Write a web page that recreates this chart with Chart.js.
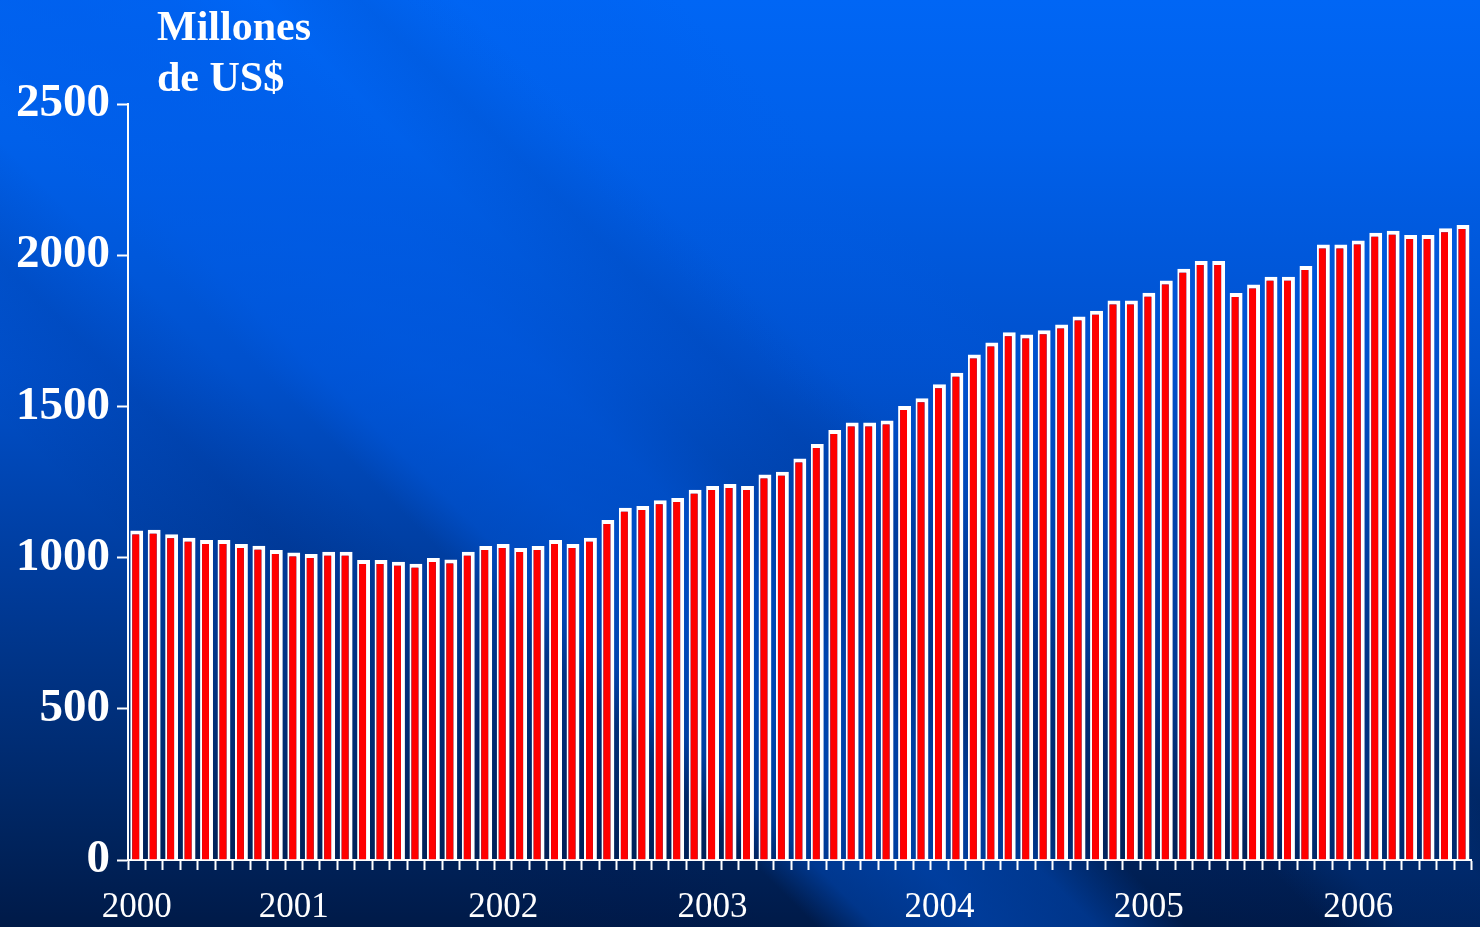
<!DOCTYPE html>
<html lang="es">
<head>
<meta charset="utf-8">
<title>Millones de US$</title>
<script src="https://cdn.jsdelivr.net/npm/chart.js@4.4.1/dist/chart.umd.min.js"></script>
<style>
	html, body { margin: 0; padding: 0; background: #001a4a; }
	#wrap { width: 1480px; height: 927px; }
</style>
</head>
<body>
<div id="wrap"><canvas id="grafico" width="1480" height="927"></canvas></div>
<script>
// meses (abr 2000 - ago 2006)
const meses = [
	'abr 2000', 'may 2000', 'jun 2000', 'jul 2000', 'ago 2000', 'sep 2000', 'oct 2000', 'nov 2000', 'dic 2000',
	'ene 2001', 'feb 2001', 'mar 2001', 'abr 2001', 'may 2001', 'jun 2001', 'jul 2001', 'ago 2001', 'sep 2001', 'oct 2001', 'nov 2001', 'dic 2001',
	'ene 2002', 'feb 2002', 'mar 2002', 'abr 2002', 'may 2002', 'jun 2002', 'jul 2002', 'ago 2002', 'sep 2002', 'oct 2002', 'nov 2002', 'dic 2002',
	'ene 2003', 'feb 2003', 'mar 2003', 'abr 2003', 'may 2003', 'jun 2003', 'jul 2003', 'ago 2003', 'sep 2003', 'oct 2003', 'nov 2003', 'dic 2003',
	'ene 2004', 'feb 2004', 'mar 2004', 'abr 2004', 'may 2004', 'jun 2004', 'jul 2004', 'ago 2004', 'sep 2004', 'oct 2004', 'nov 2004', 'dic 2004',
	'ene 2005', 'feb 2005', 'mar 2005', 'abr 2005', 'may 2005', 'jun 2005', 'jul 2005', 'ago 2005', 'sep 2005', 'oct 2005', 'nov 2005', 'dic 2005',
	'ene 2006', 'feb 2006', 'mar 2006', 'abr 2006', 'may 2006', 'jun 2006', 'jul 2006', 'ago 2006'
];

// millones de US$
const valores = [
	1090, 1092, 1077, 1066, 1058, 1058, 1045, 1039, 1025, 1017,
	1012, 1019, 1019, 992, 992, 986, 980, 999, 994, 1019,
	1038, 1045, 1032, 1038, 1058, 1045, 1066, 1124, 1165, 1171,
	1190, 1197, 1224, 1237, 1243, 1237, 1275, 1284, 1328, 1376,
	1422, 1447, 1447, 1453, 1501, 1527, 1573, 1611, 1672, 1711,
	1745, 1738, 1752, 1771, 1797, 1816, 1850, 1850, 1876, 1916,
	1955, 1981, 1981, 1875, 1903, 1929, 1929, 1964, 2035, 2035,
	2049, 2074, 2081, 2067, 2067, 2089, 2100
];

// etiquetas de años y la barra bajo la que aparecen
const anios = ['2000', '2001', '2002', '2003', '2004', '2005', '2006'];
const posAnios = [0, 9, 21, 33, 46, 58, 70];

const ejeY = { min: 0, max: 2500, paso: 500 };
const unidad = ['Millones', 'de US$'];

const SERIF = "'Liberation Serif', 'Times New Roman', serif";

// degradado a lo largo de u = x - y (franjas diagonales)
function franja(ctx, w, h, rgb, paradas) {
	let g = ctx.createLinearGradient(-h / 2, h / 2, w / 2, -w / 2);
	paradas.forEach(p => {
		let t = (p[0] + h) / (w + h);
		g.addColorStop(Math.min(1, Math.max(0, t)), 'rgba(' + rgb + ',' + p[1] + ')');
	});
	ctx.fillStyle = g;
	ctx.fillRect(0, 0, w, h);
}

const fondo = {
	id: 'fondo',
	beforeDraw(chart) {
		let ctx = chart.ctx, w = chart.width, h = chart.height;
		ctx.save();
		let g = ctx.createLinearGradient(0, 0, 0, h);
		g.addColorStop(0, '#0066f5');
		g.addColorStop(0.15, '#0060ea');
		g.addColorStop(0.4, '#0050cc');
		g.addColorStop(0.62, '#003c9c');
		g.addColorStop(0.9, '#00245e');
		g.addColorStop(1, '#001a48');
		ctx.fillStyle = g;
		ctx.fillRect(0, 0, w, h);
		franja(ctx, w, h, '0,92,232', [[-200, 0], [-110, 0], [-50, 0.4], [60, 0.5], [170, 0.4], [260, 0], [1500, 0]]);
		franja(ctx, w, h, '0,20,80', [[-900, 0], [-420, 0], [-260, 0.12], [-140, 0], [260, 0], [360, 0.08], [460, 0], [1500, 0]]);
		franja(ctx, w, h, '0,92,232', [[400, 0], [480, 0.15], [600, 0.15], [680, 0], [1500, 0]]);
		ctx.restore();
	}
};

const textoUnidad = {
	id: 'textoUnidad',
	afterDraw(chart) {
		let ctx = chart.ctx;
		ctx.save();
		ctx.fillStyle = '#ffffff';
		ctx.font = 'bold 42px ' + SERIF;
		ctx.textBaseline = 'alphabetic';
		ctx.textAlign = 'left';
		ctx.fillText(unidad[0], 157, 40);
		ctx.fillText(unidad[1], 157, 91);
		ctx.restore();
	}
};

let $ = document.querySelector.bind(document);
let grafico = new Chart($('#grafico').getContext('2d'), {
	type: 'bar',
	data: {
		labels: meses,
		datasets: [{
			label: 'Millones de US$',
			data: valores,
			backgroundColor: '#ff0000',
			borderColor: '#ffffff',
			borderWidth: { left: 2, top: 4, right: 4, bottom: 0 },
			borderSkipped: 'bottom',
			barPercentage: 0.74,
			categoryPercentage: 1
		}]
	},
	options: {
		responsive: false,
		animation: false,
		devicePixelRatio: 1,
		layout: { padding: { top: 104, right: 2, left: 0, bottom: 0 } },
		plugins: {
			legend: { display: false },
			tooltip: { enabled: false }
		},
		scales: {
			x: {
				afterFit: s => { s.height = 67; },
				border: { display: true, color: '#ffffff', width: 2 },
				grid: {
					offset: true,
					drawOnChartArea: false,
					drawTicks: true,
					tickLength: 10,
					tickColor: '#ffffff',
					tickWidth: 2
				},
				ticks: {
					autoSkip: false,
					maxRotation: 0,
					minRotation: 0,
					padding: 17,
					color: '#ffffff',
					font: { family: SERIF, size: 35 },
					callback: function (v, i) {
						let k = posAnios.indexOf(i);
						return k >= 0 ? anios[k] : '';
					}
				}
			},
			y: {
				min: ejeY.min,
				max: ejeY.max,
				afterFit: s => { s.width = 128; },
				border: { display: true, color: '#ffffff', width: 2 },
				grid: {
					drawOnChartArea: false,
					drawTicks: true,
					tickLength: 11,
					tickColor: '#ffffff',
					tickWidth: 2
				},
				ticks: {
					stepSize: ejeY.paso,
					padding: 7,
					color: '#ffffff',
					font: { family: SERIF, size: 47, weight: 'bold' },
					callback: v => String(v)
				}
			}
		}
	},
	plugins: [fondo, textoUnidad]
});
</script>
</body>
</html>
